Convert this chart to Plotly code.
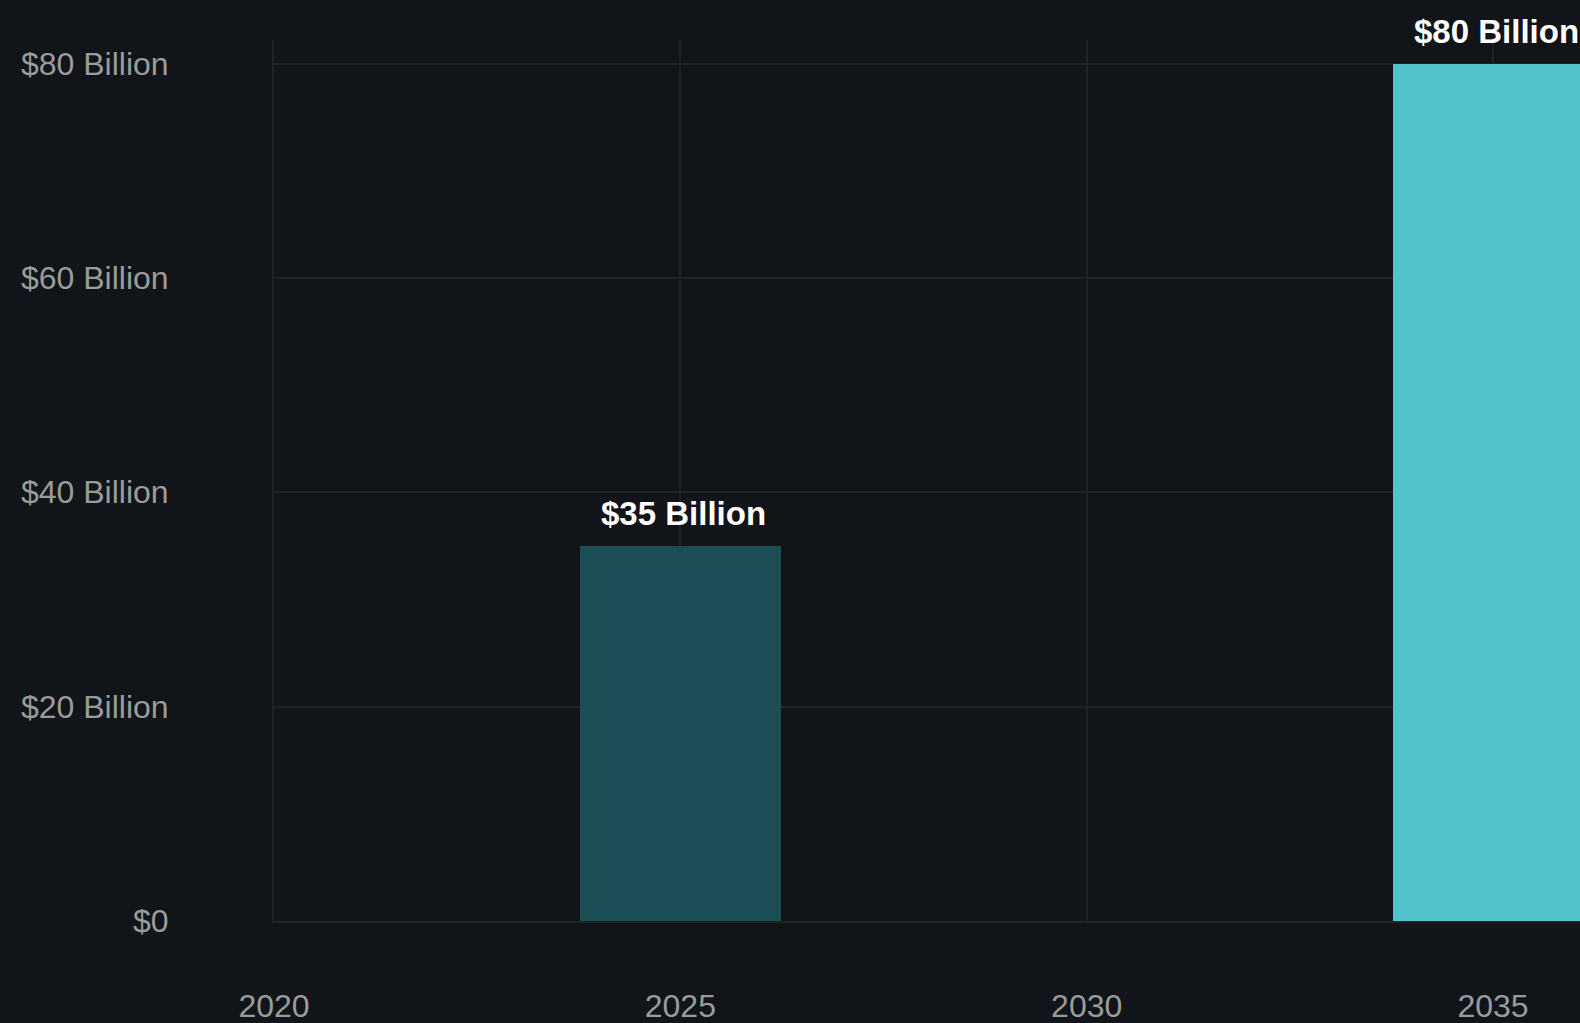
import plotly.graph_objects as go

years = [2025, 2035]
values = [35, 80]
bar_labels = ["$35 Billion", "$80 Billion"]
bar_colors = ["#1c4f55", "#52c2cc"]

x_ticks = [2020, 2025, 2030, 2035]
x_ticklabels = ["2020", "2025", "2030", "2035"]
y_ticks = [0, 20, 40, 60, 80]
y_ticklabels = ["$0", "$20 Billion", "$40 Billion", "$60 Billion", "$80 Billion"]

BG = "#111418"
GRID = "#1f2326"
TICK = "#9b9b9b"
FONT = "Liberation Sans, Arial, Helvetica, sans-serif"

fig = go.Figure()
fig.add_trace(go.Bar(
    x=years, y=values, width=2.47,
    marker=dict(color=bar_colors, line=dict(width=0)),
    hoverinfo="skip",
))

for x, y, t in zip(years, values, bar_labels):
    fig.add_annotation(x=x, y=y, text="<b>%s</b>" % t, showarrow=False,
                       xanchor="center", yanchor="bottom", yshift=12, xshift=3,
                       font=dict(family=FONT, size=33, color="#ffffff"))

fig.update_layout(
    width=1580, height=1023,
    paper_bgcolor=BG, plot_bgcolor=BG,
    margin=dict(l=274, r=0, t=40, b=102, autoexpand=False),
    showlegend=False,
    bargap=0,
    xaxis=dict(
        range=[2020, 2036.07], tickvals=x_ticks, ticktext=x_ticklabels,
        showgrid=True, gridcolor=GRID, gridwidth=2, zeroline=False,
        showline=True, linecolor=GRID, linewidth=2,
        ticks="", ticklabelstandoff=56, automargin=False,
        tickfont=dict(family=FONT, size=32, color=TICK),
    ),
    yaxis=dict(
        range=[0, 82.2], tickvals=y_ticks, ticktext=y_ticklabels,
        showgrid=True, gridcolor=GRID, gridwidth=2, zeroline=False,
        showline=True, linecolor=GRID, linewidth=2,
        ticks="", ticklabelstandoff=97, automargin=False,
        tickfont=dict(family=FONT, size=32, color=TICK),
    ),
)

fig.write_html("out.html")
